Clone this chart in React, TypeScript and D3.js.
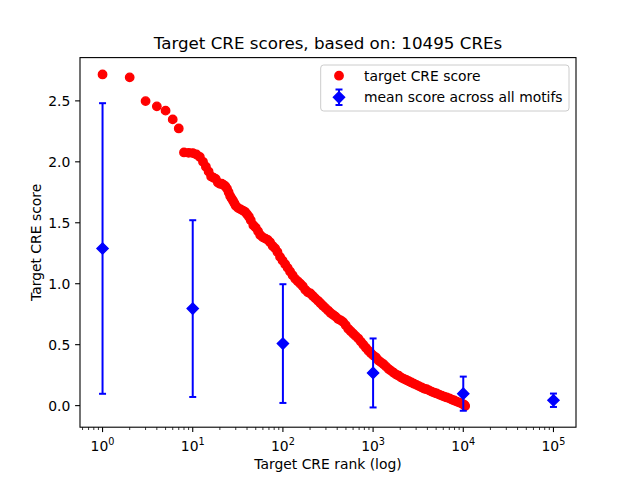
import * as d3 from "d3";

// red scatter: CRE rank vs. target CRE score
const creRanks = [
  1, 2, 3, 4, 5, 6, 7, 8, 9, 10, 11, 12, 13, 14, 15, 16, 17, 18, 19, 20,
  21, 22, 23, 24, 25, 26, 27, 28, 29, 30, 32, 34, 36, 38, 40, 42, 44, 47,
  50, 53, 56, 60, 64, 68, 72, 77, 82, 87, 93, 99, 106, 113, 120, 128, 137,
  146, 156, 166, 177, 189, 202, 215, 229, 245, 261, 278, 297, 317, 338, 360,
  384, 410, 437, 466, 497, 530, 565, 603, 643, 686, 732, 780, 832, 888, 947,
  1010, 1077, 1149, 1225, 1307, 1394, 1487, 1586, 1692, 1805, 1925, 2053,
  2190, 2336, 2492, 2658, 2835, 3024, 3226, 3441, 3670, 3915, 4176, 4454,
  4751, 5068, 5406, 5766, 6150, 6560, 6997, 7463, 7960, 8490, 9056, 9660,
  10000, 10300, 10495,
];
const creScores = [
  2.717, 2.693, 2.498, 2.455, 2.42, 2.348, 2.274, 2.077, 2.074, 2.072, 2.06,
  2.04, 2.0, 1.96, 1.92, 1.88, 1.87, 1.86, 1.83, 1.82, 1.82, 1.81, 1.8, 1.78,
  1.75, 1.72, 1.7, 1.68, 1.66, 1.64, 1.62, 1.61, 1.6, 1.59, 1.57, 1.55, 1.52,
  1.48, 1.46, 1.43, 1.4, 1.38, 1.37, 1.36, 1.34, 1.31, 1.29, 1.26, 1.22,
  1.19, 1.16, 1.13, 1.1, 1.07, 1.04, 1.02, 1.0, 0.98, 0.95, 0.93, 0.92, 0.9,
  0.88, 0.86, 0.84, 0.82, 0.8, 0.78, 0.76, 0.745, 0.73, 0.71, 0.7, 0.685,
  0.66, 0.63, 0.61, 0.59, 0.57, 0.55, 0.525, 0.5, 0.475, 0.45, 0.43, 0.41,
  0.395, 0.37, 0.355, 0.34, 0.32, 0.3, 0.285, 0.27, 0.255, 0.245, 0.23, 0.22,
  0.21, 0.2, 0.19, 0.18, 0.17, 0.16, 0.15, 0.14, 0.135, 0.125, 0.115, 0.107,
  0.1, 0.09, 0.082, 0.074, 0.067, 0.06, 0.05, 0.042, 0.033, 0.025, 0.017,
  0.01, 0.005, -0.003,
];

// blue error bars: mean score across all motifs
const meanRanks = [1, 10, 100, 1000, 10000, 100000];
const meanScores = [1.289, 0.796, 0.509, 0.268, 0.098, 0.044];
const meanErrors = [1.192, 0.725, 0.487, 0.283, 0.14, 0.055];

const yTicks = [0, 0.5, 1, 1.5, 2, 2.5];
const xDecades = [0, 1, 2, 3, 4, 5];

const title = "Target CRE scores, based on: 10495 CREs";
const xLabel = "Target CRE rank (log)";
const yLabel = "Target CRE score";
const legendLabels = ["target CRE score", "mean score across all motifs"];

const W = 640;
const H = 480;
const m = { left: 80, right: 576, top: 57.6, bottom: 427.2 };
const font = "DejaVu Sans";

export default function App() {
  const x = d3
    .scaleLog()
    .domain([Math.pow(10, -0.25), Math.pow(10, 5.25)])
    .range([m.left, m.right]);
  const y = d3.scaleLinear().domain([-0.177, 2.855]).range([m.bottom, m.top]);

  // minor ticks 2..9 for each decade inside the domain
  const minor: number[] = [];
  for (let k = -1; k <= 5; k++) {
    for (let j = 2; j <= 9; j++) {
      const v = j * Math.pow(10, k);
      if (v >= x.domain()[0] && v <= x.domain()[1]) minor.push(v);
    }
  }

  const diamond = (cx: number, cy: number, r: number) =>
    `M${cx},${cy - r}L${cx + r},${cy}L${cx},${cy + r}L${cx - r},${cy}Z`;

  const midX = (m.left + m.right) / 2;
  const midY = (m.top + m.bottom) / 2;
  const lg = { x: 320.7, y: 65, w: 248.3, h: 46 };

  return (
    <svg width={W} height={H} style={{ display: "block", margin: -8 }}>
      <rect width={W} height={H} fill="#fff" />

      {/* red scatter */}
      <g fill="#ff0000" stroke="#ff0000" strokeWidth={1.4}>
        {creRanks.map((r, i) => (
          <circle key={i} cx={x(r)} cy={y(creScores[i])} r={4.2} />
        ))}
      </g>

      {/* error bars */}
      <g stroke="#0000ff" strokeWidth={2}>
        {meanRanks.map((r, i) => {
          const cx = x(r);
          const y1 = y(meanScores[i] + meanErrors[i]);
          const y0 = y(meanScores[i] - meanErrors[i]);
          return (
            <g key={i}>
              <line x1={cx} x2={cx} y1={y1} y2={y0} />
              <line x1={cx - 3.5} x2={cx + 3.5} y1={y1} y2={y1} />
              <line x1={cx - 3.5} x2={cx + 3.5} y1={y0} y2={y0} />
              <path
                d={diamond(cx, y(meanScores[i]), 5.6)}
                fill="#0000ff"
                strokeWidth={1.4}
              />
            </g>
          );
        })}
      </g>

      {/* spines */}
      <rect
        x={m.left}
        y={m.top}
        width={m.right - m.left}
        height={m.bottom - m.top}
        fill="none"
        stroke="#000"
        strokeWidth={1.1}
      />

      {/* x ticks */}
      <g stroke="#000">
        {minor.map((v, i) => (
          <line key={i} x1={x(v)} x2={x(v)} y1={m.bottom} y2={m.bottom + 2.8} strokeWidth={0.8} />
        ))}
        {xDecades.map((k) => (
          <line key={k} x1={x(Math.pow(10, k))} x2={x(Math.pow(10, k))} y1={m.bottom} y2={m.bottom + 4.9} strokeWidth={1.1} />
        ))}
      </g>
      <g fontFamily={font} fontSize={13.9} fill="#000">
        {xDecades.map((k) => (
          <text key={k} x={x(Math.pow(10, k))} y={451} textAnchor="middle">
            10
            <tspan fontSize={9.7} dy={-6}>
              {k}
            </tspan>
          </text>
        ))}
      </g>

      {/* y ticks */}
      <g stroke="#000" strokeWidth={1.1}>
        {yTicks.map((t) => (
          <line key={t} x1={m.left - 4.9} x2={m.left} y1={y(t)} y2={y(t)} />
        ))}
      </g>
      <g fontFamily={font} fontSize={13.9} fill="#000" textAnchor="end">
        {yTicks.map((t) => (
          <text key={t} x={70.3} y={y(t)} dy="0.36em">
            {d3.format(".1f")(t)}
          </text>
        ))}
      </g>

      {/* labels */}
      <text x={midX} y={49.3} textAnchor="middle" fontFamily={font} fontSize={16.7}>
        {title}
      </text>
      <text x={midX} y={469} textAnchor="middle" fontFamily={font} fontSize={13.9}>
        {xLabel}
      </text>
      <text
        transform={`translate(41,${midY}) rotate(-90)`}
        textAnchor="middle"
        fontFamily={font}
        fontSize={13.9}
      >
        {yLabel}
      </text>

      {/* legend */}
      <rect
        x={lg.x}
        y={lg.y}
        width={lg.w}
        height={lg.h}
        rx={3}
        fill="#fff"
        fillOpacity={0.8}
        stroke="#cccccc"
        strokeWidth={1}
      />
      <circle cx={339} cy={75.7} r={4.2} fill="#ff0000" stroke="#ff0000" strokeWidth={1.4} />
      <g stroke="#0000ff" strokeWidth={2}>
        <line x1={339} x2={339} y1={89.5} y2={105} />
        <line x1={335.5} x2={342.5} y1={89.5} y2={89.5} />
        <line x1={335.5} x2={342.5} y1={105} y2={105} />
        <path d={diamond(339, 97.3, 5.6)} fill="#0000ff" strokeWidth={1.4} />
      </g>
      <g fontFamily={font} fontSize={13.9} fill="#000">
        <text x={364} y={80.5}>
          {legendLabels[0]}
        </text>
        <text x={364} y={102.2}>
          {legendLabels[1]}
        </text>
      </g>
    </svg>
  );
}
